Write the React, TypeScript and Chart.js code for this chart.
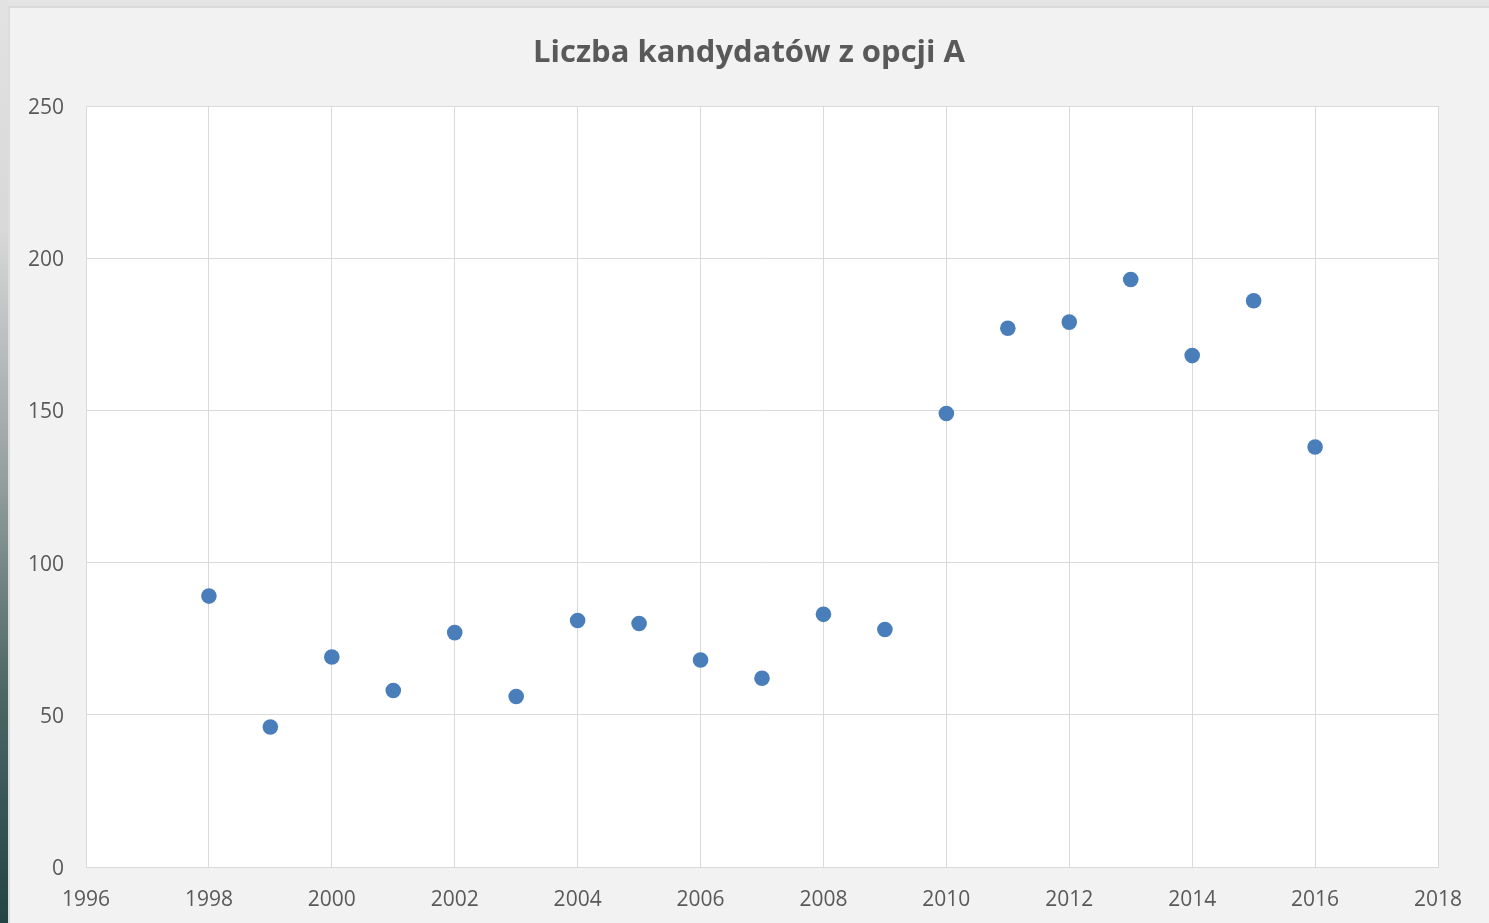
import React, { useEffect, useRef } from "react";
import { Chart, registerables } from "chart.js";

Chart.register(...registerables);

const TITLE = "Liczba kandydatów z opcji A";
const YEARS = [1998, 1999, 2000, 2001, 2002, 2003, 2004, 2005, 2006, 2007, 2008, 2009, 2010, 2011, 2012, 2013, 2014, 2015, 2016];
const VALUES = [89, 46, 69, 58, 77, 56, 81, 80, 68, 62, 83, 78, 149, 177, 179, 193, 168, 186, 138];
const X_MIN = 1996;
const X_MAX = 2018;
const X_STEP = 2;
const Y_MIN = 0;
const Y_MAX = 250;
const Y_STEP = 50;

const FONT = "'Open Sans', 'Noto Sans', sans-serif";
const TEXT_COLOR = "#595959";
const GRID_COLOR = "#d9d9d9";
const POINT_COLOR = "#4a7ebb";

const framePlugin = {
  id: "frame",
  beforeDraw(chart: any) {
    const { ctx, width, height, chartArea } = chart;
    ctx.save();
    ctx.fillStyle = "#f2f2f2";
    ctx.fillRect(0, 0, width, height);
    // top band
    ctx.fillStyle = "#e4e4e4";
    ctx.fillRect(0, 0, width, 7);
    ctx.fillStyle = "#d9d9d9";
    ctx.fillRect(0, 6, width, 2);
    // left strip
    const g = ctx.createLinearGradient(0, 0, 0, height);
    g.addColorStop(0, "#e2e2e2");
    g.addColorStop(0.25, "#d8d8d8");
    g.addColorStop(0.5, "#9aa3a3");
    g.addColorStop(0.75, "#4d6666");
    g.addColorStop(1, "#224444");
    ctx.fillStyle = g;
    ctx.fillRect(0, 0, 8, height);
    ctx.fillStyle = "#dcdcdc";
    ctx.fillRect(8, 8, 2, height);
    // plot area
    ctx.fillStyle = "#ffffff";
    ctx.fillRect(chartArea.left, chartArea.top, chartArea.right - chartArea.left, chartArea.bottom - chartArea.top);
    ctx.restore();
  },
  afterDraw(chart: any) {
    const { ctx } = chart;
    ctx.save();
    ctx.fillStyle = TEXT_COLOR;
    ctx.font = `bold 31px ${FONT}`;
    ctx.textAlign = "center";
    ctx.textBaseline = "middle";
    ctx.fillText(TITLE, 749, 53);
    ctx.restore();
  },
};

export default function App() {
  const ref = useRef<HTMLCanvasElement | null>(null);
  useEffect(() => {
    if (!ref.current) return;
    const chart = new Chart(ref.current, {
      type: "scatter",
      data: {
        datasets: [
          {
            label: TITLE,
            data: YEARS.map((x, i) => ({ x, y: VALUES[i] })),
            backgroundColor: POINT_COLOR,
            borderColor: POINT_COLOR,
            borderWidth: 0,
            pointRadius: 7.8,
            pointHoverRadius: 7.8,
          },
        ],
      },
      options: {
        responsive: false,
        animation: false,
        layout: { padding: { top: 106, left: 10, right: 51, bottom: 0 } },
        plugins: {
          legend: { display: false },
          title: { display: false },
          tooltip: { enabled: false },
        },
        scales: {
          x: {
            type: "linear",
            min: X_MIN,
            max: X_MAX,
            afterFit: (s: any) => {
              s.height = 56;
            },
            ticks: {
              stepSize: X_STEP,
              padding: 20,
              color: TEXT_COLOR,
              font: { family: FONT, size: 21 },
              callback: (v: any) => String(v),
            },
            grid: { color: GRID_COLOR, drawTicks: false, lineWidth: 1 },
            border: { color: GRID_COLOR },
          },
          y: {
            min: Y_MIN,
            max: Y_MAX,
            afterFit: (s: any) => {
              s.width = 76;
            },
            ticks: {
              stepSize: Y_STEP,
              padding: 22,
              labelOffset: 2,
              color: TEXT_COLOR,
              font: { family: FONT, size: 21 },
            },
            grid: { color: GRID_COLOR, drawTicks: false, lineWidth: 1 },
            border: { color: GRID_COLOR },
          },
        },
      },
      plugins: [framePlugin],
    });
    return () => chart.destroy();
  }, []);
  return (
    <div style={{ position: "fixed", left: 0, top: 0, width: 1489, height: 923 }}>
      <canvas ref={ref} width={1489} height={923} style={{ display: "block" }} />
    </div>
  );
}
